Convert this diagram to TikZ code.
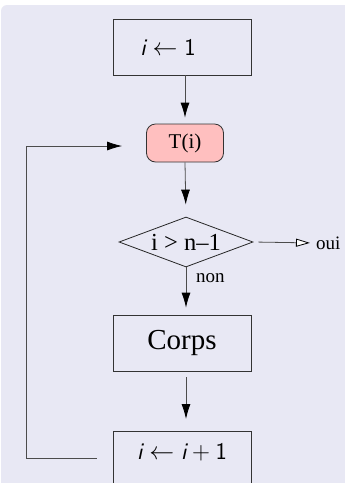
\documentclass[tikz,border=0pt]{standalone}
\usepackage{fontspec}
\setmainfont{Liberation Serif}
\usetikzlibrary{shapes.geometric,arrows.meta}
\definecolor{blockbg}{rgb}{0.91,0.91,0.955}
\definecolor{tpink}{rgb}{1,0.75,0.75}
\definecolor{edgegray}{gray}{0.3}
\tikzset{
  procbox/.style={draw=black!80, line width=0.8pt, minimum width=138pt,
    minimum height=56pt, inner sep=0pt},
  flow/.style={draw=edgegray, line width=0.8pt,
    -{Latex[length=15pt,width=9pt,color=black]}},
  yesflow/.style={draw=edgegray, line width=0.8pt,
    -{Triangle[open,length=14pt,width=8pt,fill=white,color=black]}},
  lbl/.style={inner sep=0pt, font=\fontsize{19}{23}\selectfont},
  mathtxt/.style={font=\fontsize{24}{28}\selectfont},
}
\begin{document}
\begin{tikzpicture}[x=1pt,y=-1pt]
  \useasboundingbox (0,0) rectangle (345,483);
  \clip (0,0) rectangle (345,483);
  \fill[white] (0,0) rectangle (345,483);
  \fill[blockbg, rounded corners=6pt] (1,5) rectangle (365,510);

  % boxes of the flow chart
  \node[procbox, mathtxt] (init) at (182,47)
    {{\sffamily\itshape i}${}\leftarrow{}${\sffamily 1}\kern28pt\relax};
  \node[draw=black!80, line width=0.8pt, fill=tpink, rounded corners=9pt,
    minimum width=77pt, minimum height=38pt, inner sep=0pt,
    font=\fontsize{21}{25}\selectfont] (T) at (185,143) {T(i)};
  \node[diamond, draw=black!85, line width=0.8pt, inner sep=0pt, aspect=2.68,
    minimum width=134pt, minimum height=50pt,
    font=\fontsize{24.5}{29}\selectfont] (test) at (186,242) {i > n–1};
  \node[procbox, font=\fontsize{29}{34}\selectfont] (corps) at (182,343) {Corps};
  \node[procbox, mathtxt, anchor=north, minimum height=75pt, text depth=34pt]
    (incr) at (182,431)
    {{\sffamily\itshape i}${}\leftarrow{}${\sffamily\itshape i}${}+{}${\sffamily 1}};

  % labels
  \node[lbl, anchor=west] (oui) at (316,243) {oui};
  \node[lbl, anchor=west] (non) at (196,278) {non};

  % connectors
  \coordinate (back) at (26,458);
  \draw[flow, shorten >=6pt] (init.south -| T.north) -- (T.north);
  \draw[flow, shorten >=12pt] (T.south) -- (test.north);
  \draw[yesflow, shorten <=5pt, shorten >=6pt] (test.east) -- (oui.west);
  \draw[flow, shorten >=7pt] (test.south) -- (corps.north -| test.south);
  \draw[flow, shorten <=6pt, shorten >=12pt] (corps.south -| test.south)
    -- (incr.north -| test.south);
  \draw[flow, shorten <=16pt, shorten >=24pt] (incr.west |- back) -- (back)
    -- (back |- 0,146) -- (T.west |- 0,146);
\end{tikzpicture}
\end{document}
